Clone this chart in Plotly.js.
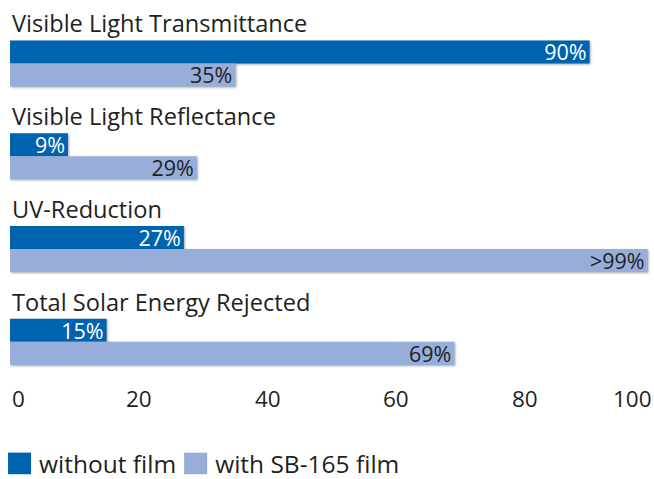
<!DOCTYPE html>
<html>
<head>
<meta charset="utf-8">
<script src="https://cdn.plot.ly/plotly-3.0.1.min.js"></script>
<style>
  html, body { margin: 0; padding: 0; background: #fff; }
  #chart { width: 654px; height: 479px; }
  .bars .point path { filter: drop-shadow(1.5px 1.5px 1px rgba(0,0,0,0.35)); }
  .legendpoints path { transform: translate(20.5px, 0px) scale(1.92, 1.8); }
  .legend .traces:nth-child(2) { translate: -6px 0px; }
</style>
</head>
<body>
<div id="chart"></div>
<script>
const categories = ['Visible Light Transmittance', 'Visible Light Reflectance', 'UV-Reduction', 'Total Solar Energy Rejected'];
const withoutFilm = [90, 9, 27, 15];
const withFilm = [35, 29, 99, 69];
const withoutFilmLabels = ['90%', '9%', '27%', '15%'];
const withFilmLabels = ['35%', '29%', '>99%', '69%'];
const seriesNames = ['without film', 'with SB-165 film'];
const tickVals = [0, 20, 40, 60, 80, 100];
const tickLabels = ['0', '20', '40', '60', '80', '100'];

const FONT = 'Open Sans, Noto Sans, sans-serif';
const TXT = '#231f20';
const DARK = '#0063b0';
const LIGHT = '#97aedb';

const traces = [
  {
    type: 'bar', orientation: 'h', name: seriesNames[0],
    y: categories, x: withoutFilm, text: withoutFilmLabels,
    textposition: 'inside', insidetextanchor: 'end', constraintext: 'none',
    textfont: { family: FONT, size: 21.5, color: '#ffffff' },
    marker: { color: DARK, line: { width: 0 } },
    hoverinfo: 'skip', cliponaxis: false
  },
  {
    type: 'bar', orientation: 'h', name: seriesNames[1],
    y: categories, x: withFilm, text: withFilmLabels,
    textposition: 'inside', insidetextanchor: 'end', constraintext: 'none',
    textfont: { family: FONT, size: 21.5, color: TXT },
    marker: { color: LIGHT, line: { width: 0 } },
    hoverinfo: 'skip', cliponaxis: false
  }
];

const annotations = [];
categories.forEach(function (c) {
  annotations.push({
    text: c, x: 0, xref: 'x', y: c, yref: 'y',
    xanchor: 'left', yanchor: 'bottom', yshift: 22, showarrow: false,
    font: { family: FONT, size: 23.6, color: TXT }
  });
});
tickVals.forEach(function (v, i) {
  annotations.push({
    text: tickLabels[i], x: v, xref: 'x', y: 0, yref: 'paper',
    xanchor: i === 0 ? 'left' : (i === tickVals.length - 1 ? 'right' : 'center'),
    yanchor: 'middle', yshift: -23, showarrow: false,
    font: { family: FONT, size: 22.5, color: TXT }
  });
});

const layout = {
  width: 654, height: 479,
  margin: { l: 10, r: 0, t: 0, b: 104, pad: 0, autoexpand: false },
  paper_bgcolor: '#ffffff', plot_bgcolor: '#ffffff',
  barmode: 'group', bargap: 0.504, bargroupgap: 0,
  font: { family: FONT, color: TXT },
  xaxis: { range: [0, 100], showticklabels: false, showgrid: false, zeroline: false, showline: false, ticks: '', fixedrange: true },
  yaxis: { type: 'category', range: [3.357, -0.684], showticklabels: false, showgrid: false, zeroline: false, showline: false, ticks: '', fixedrange: true },
  showlegend: true,
  legend: {
    orientation: 'h', x: -0.017, xanchor: 'left', y: -0.236, yanchor: 'middle',
    font: { family: FONT, size: 24.5, color: TXT },
    traceorder: 'normal', itemclick: false, itemdoubleclick: false,
    bgcolor: 'rgba(0,0,0,0)', borderwidth: 0
  },
  annotations: annotations
};

Plotly.newPlot('chart', traces, layout, { staticPlot: true, displayModeBar: false });
</script>
</body>
</html>
